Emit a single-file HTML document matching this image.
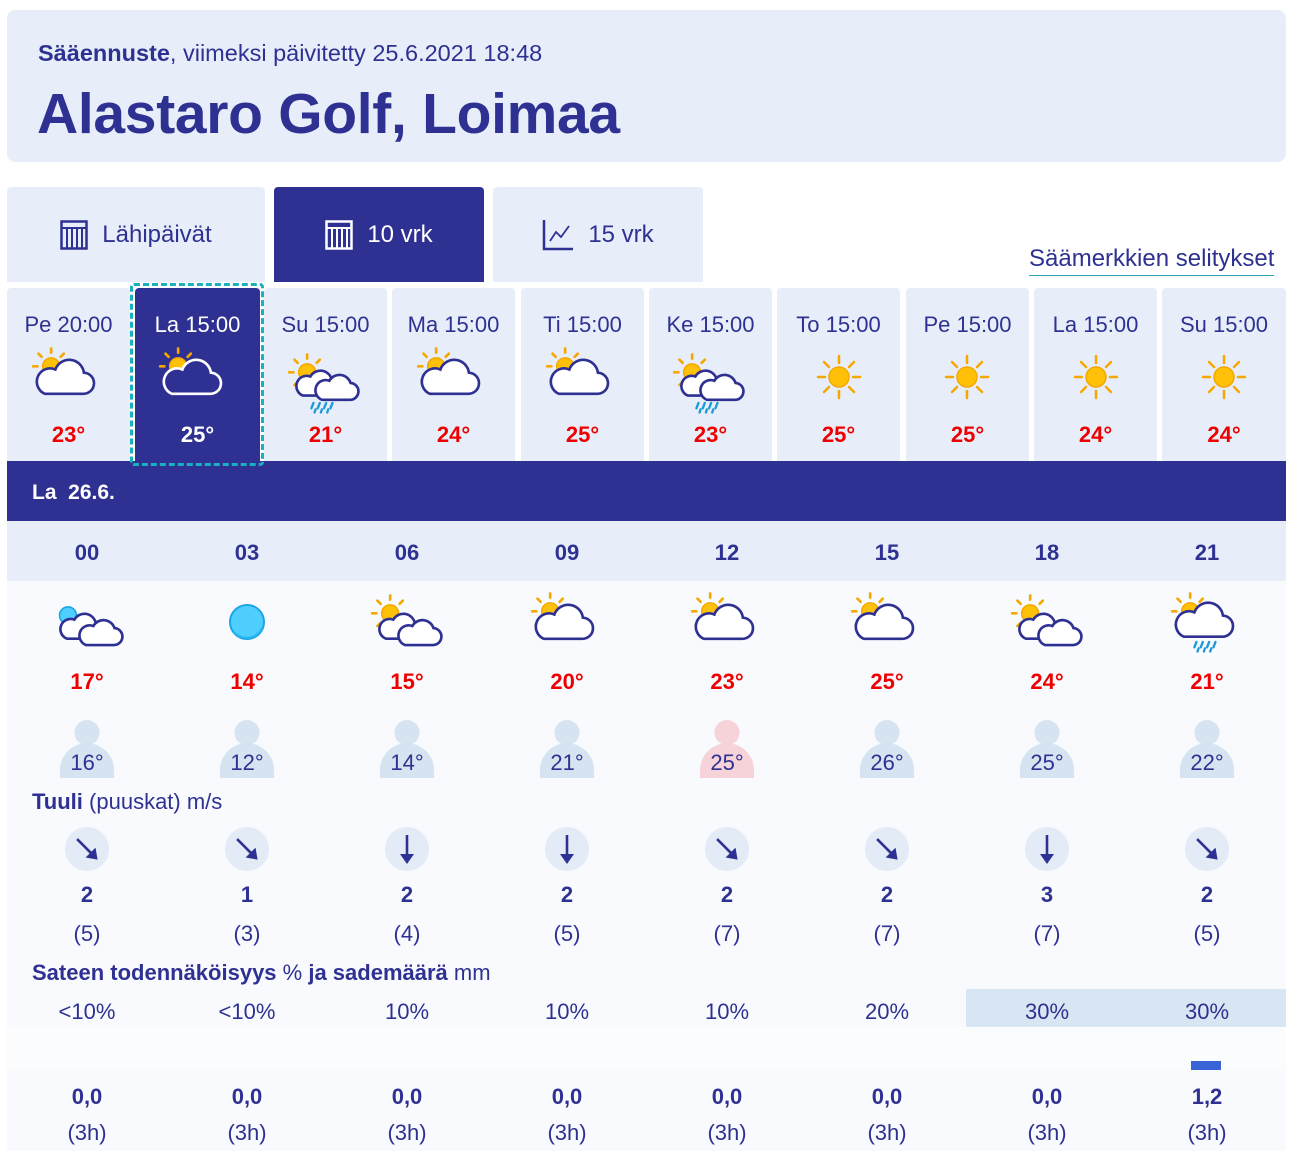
<!DOCTYPE html>
<html><head><meta charset="utf-8">
<style>
*{margin:0;padding:0;box-sizing:border-box}
body{width:1309px;height:1174px;background:#fff;font-family:"Liberation Sans","DejaVu Sans",sans-serif;color:#2e3192;position:relative;overflow:hidden}
.a{position:absolute}
.c{position:absolute;text-align:center}
.hdr{left:7px;top:10px;width:1279px;height:152px;background:#e7eef9;border-radius:8px}
.tab{top:187px;height:95px;background:#e7eef9;border-radius:4px 4px 0 0;font-size:24px;display:flex;align-items:center;justify-content:center;gap:14px}
.card{top:288px;width:123px;height:173px;background:#e7eef9;border-radius:4px 4px 0 0}
.cl{font-size:22px;top:312px}
.ct{font-size:22px;font-weight:bold;color:#e00;top:422px}
.col{width:160px}
.t1{top:669px;font-size:22px;font-weight:bold;color:#e00}
.t2{top:750px;font-size:22px}
.w1{top:882px;font-size:22px;font-weight:bold}
.w2{top:921px;font-size:22px}
.p{top:999px;font-size:22px}
.m1{top:1084px;font-size:22px;font-weight:bold}
.m2{top:1120px;font-size:22px}
</style></head><body>
<svg width="0" height="0" style="position:absolute">
<defs>
<g id="sunS"><g stroke="#f6a800" stroke-width="2.5" stroke-linecap="round"><line x1="20" y1="5" x2="20" y2="1"/><line x1="11" y1="9" x2="8" y2="6"/><line x1="7" y1="18" x2="3" y2="18"/><line x1="11" y1="27" x2="8" y2="30"/><line x1="29" y1="9" x2="32" y2="6"/></g><circle cx="20" cy="18" r="8" fill="#ffc107" stroke="#f6a800" stroke-width="1.5"/></g>
<path id="cb" d="M14 44 H50 A10 10 0 0 0 51 24 A14 14 0 0 0 24 21 A11.5 11.5 0 0 0 14 44 Z"/>
<path id="cs" d="M10 36 H36 A8 8 0 0 0 37 20 A11 11 0 0 0 17 18 A9 9 0 0 0 10 36 Z"/>
<symbol id="c1" viewBox="0 0 70 60"><use href="#sunS"/><use href="#cb" fill="#fff" stroke="#2e3192" stroke-width="2.5"/></symbol>
<symbol id="c1s" viewBox="0 0 70 60"><use href="#sunS"/><use href="#cb" fill="#2e3192" stroke="#fff" stroke-width="2.5"/></symbol>
<symbol id="c2" viewBox="0 0 70 60"><use href="#sunS"/><g fill="#fff" stroke="#2e3192" stroke-width="2.5"><use href="#cs" transform="translate(6,6)"/><use href="#cs" transform="translate(24,12)"/></g></symbol>
<symbol id="c2r" viewBox="0 0 70 60"><use href="#sunS"/><g fill="#fff" stroke="#2e3192" stroke-width="2.5"><use href="#cs" transform="translate(6,4)"/><use href="#cs" transform="translate(24,8)"/></g><g stroke="#1a9ad6" stroke-width="2.2" stroke-linecap="round"><line x1="26" y1="47" x2="24" y2="52"/><line x1="32" y1="47" x2="30" y2="52"/><line x1="38" y1="47" x2="36" y2="52"/><line x1="44" y1="47" x2="42" y2="52"/><line x1="28" y1="53" x2="27" y2="56"/><line x1="34" y1="53" x2="33" y2="56"/><line x1="40" y1="53" x2="39" y2="56"/></g></symbol>
<symbol id="c1r" viewBox="0 0 70 60"><use href="#sunS"/><use href="#cb" fill="#fff" stroke="#2e3192" stroke-width="2.5" transform="translate(0,-2)"/><g stroke="#1a9ad6" stroke-width="2.2" stroke-linecap="round"><line x1="26" y1="47" x2="24" y2="52"/><line x1="32" y1="47" x2="30" y2="52"/><line x1="38" y1="47" x2="36" y2="52"/><line x1="44" y1="47" x2="42" y2="52"/><line x1="28" y1="53" x2="27" y2="56"/><line x1="34" y1="53" x2="33" y2="56"/><line x1="40" y1="53" x2="39" y2="56"/></g></symbol>
<symbol id="sun" viewBox="0 0 70 60"><g stroke="#f6a800" stroke-width="2.5" stroke-linecap="round"><line x1="35" y1="11" x2="35" y2="4"/><line x1="35" y1="39" x2="35" y2="46"/><line x1="21" y1="25" x2="14" y2="25"/><line x1="49" y1="25" x2="56" y2="25"/><line x1="25" y1="15" x2="20" y2="10"/><line x1="45" y1="15" x2="50" y2="10"/><line x1="25" y1="35" x2="20" y2="40"/><line x1="45" y1="35" x2="50" y2="40"/></g><circle cx="35" cy="25" r="10" fill="#ffc107" stroke="#f6a800" stroke-width="1.5"/></symbol>
<symbol id="m2" viewBox="0 0 70 60"><circle cx="17" cy="20" r="8" fill="#4fcfff" stroke="#1aa6e6" stroke-width="1.5"/><g fill="#fff" stroke="#2e3192" stroke-width="2.5"><use href="#cs" transform="translate(6,6)"/><use href="#cs" transform="translate(24,12)"/></g></symbol>
<symbol id="moon" viewBox="0 0 70 60"><circle cx="35" cy="26" r="17" fill="#4fcfff" stroke="#1aa6e6" stroke-width="2"/><path d="M22 36 A17 17 0 0 0 50 32" fill="none" stroke="#2bb8f0" stroke-width="2"/></symbol>
<symbol id="fig" viewBox="0 0 60 60"><circle cx="30" cy="13" r="13"/><path d="M2 60 V52 A28 28 0 0 1 58 52 V60 Z"/></symbol>
<symbol id="arr" viewBox="0 0 44 44"><circle cx="22" cy="22" r="22" fill="#e3ebf7"/><g stroke="#2e3192" stroke-width="2.6" fill="none"><line x1="22" y1="8" x2="22" y2="30"/></g><path d="M15 27 L22 37 L29 27 Z" fill="#2e3192"/></symbol>
</defs></svg>

<div class="a hdr"></div>
<div class="a" style="left:38px;top:40px;font-size:23.5px"><b>Sääennuste</b>, viimeksi päivitetty 25.6.2021 18:48</div>
<div class="a" style="left:37px;top:81px;font-size:57px;font-weight:bold;letter-spacing:-0.3px">Alastaro Golf, Loimaa</div>

<div class="a tab" style="left:7px;width:258px"><svg width="28" height="30" viewBox="0 0 28 30"><rect x="1.5" y="1.5" width="25" height="27" fill="none" stroke="#2e3192" stroke-width="2.5"/><g stroke="#2e3192" stroke-width="2"><line x1="1" y1="8" x2="27" y2="8"/><line x1="7" y1="8" x2="7" y2="28"/><line x1="12" y1="8" x2="12" y2="28"/><line x1="17" y1="8" x2="17" y2="28"/><line x1="22" y1="8" x2="22" y2="28"/></g></svg><span>Lähipäivät</span></div>
<div class="a tab" style="left:274px;width:210px;background:#2e3192;color:#fff"><svg width="28" height="30" viewBox="0 0 28 30"><rect x="1.5" y="1.5" width="25" height="27" fill="none" stroke="#fff" stroke-width="2.5"/><g stroke="#fff" stroke-width="2"><line x1="1" y1="8" x2="27" y2="8"/><line x1="7" y1="8" x2="7" y2="28"/><line x1="12" y1="8" x2="12" y2="28"/><line x1="17" y1="8" x2="17" y2="28"/><line x1="22" y1="8" x2="22" y2="28"/></g></svg><span>10 vrk</span></div>
<div class="a tab" style="left:493px;width:210px"><svg width="32" height="32" viewBox="0 0 32 32"><path d="M2 1 V30 H31" fill="none" stroke="#2e3192" stroke-width="2.5"/><path d="M8 22 L14 13 L19 18 L27 7" fill="none" stroke="#2e3192" stroke-width="1.8"/></svg><span>15 vrk</span></div>
<div class="a" style="left:1029px;top:245px;font-size:24px;border-bottom:1px solid #2aa5b8;padding-bottom:2px">Säämerkkien selitykset</div>

<!-- day cards -->
<div class="a card" style="left:7px"></div>
<div class="a card" style="left:135px;width:125px;height:178px;background:#2e3192"></div>
<div class="a card" style="left:264px"></div>
<div class="a card" style="left:392px"></div>
<div class="a card" style="left:521px"></div>
<div class="a card" style="left:649px"></div>
<div class="a card" style="left:777px"></div>
<div class="a card" style="left:906px"></div>
<div class="a card" style="left:1034px"></div>
<div class="a card" style="left:1162px;width:124px"></div>

<div class="c cl" style="left:7px;width:123px">Pe 20:00</div>
<div class="c cl" style="left:135px;width:125px;color:#fff">La 15:00</div>
<div class="c cl" style="left:264px;width:123px">Su 15:00</div>
<div class="c cl" style="left:392px;width:123px">Ma 15:00</div>
<div class="c cl" style="left:521px;width:123px">Ti 15:00</div>
<div class="c cl" style="left:649px;width:123px">Ke 15:00</div>
<div class="c cl" style="left:777px;width:123px">To 15:00</div>
<div class="c cl" style="left:906px;width:123px">Pe 15:00</div>
<div class="c cl" style="left:1034px;width:123px">La 15:00</div>
<div class="c cl" style="left:1162px;width:124px">Su 15:00</div>

<svg class="a" style="left:30px;top:347px" width="74" height="64" viewBox="0 0 70 60"><use href="#c1"/></svg>
<svg class="a" style="left:157px;top:347px" width="74" height="64" viewBox="0 0 70 60"><use href="#c1s"/></svg>
<svg class="a" style="left:286px;top:353px" width="74" height="64" viewBox="0 0 70 60"><use href="#c2r"/></svg>
<svg class="a" style="left:415px;top:347px" width="74" height="64" viewBox="0 0 70 60"><use href="#c1"/></svg>
<svg class="a" style="left:544px;top:347px" width="74" height="64" viewBox="0 0 70 60"><use href="#c1"/></svg>
<svg class="a" style="left:671px;top:353px" width="74" height="64" viewBox="0 0 70 60"><use href="#c2r"/></svg>
<svg class="a" style="left:804px;top:352px" width="70" height="60"><use href="#sun"/></svg>
<svg class="a" style="left:932px;top:352px" width="70" height="60"><use href="#sun"/></svg>
<svg class="a" style="left:1061px;top:352px" width="70" height="60"><use href="#sun"/></svg>
<svg class="a" style="left:1189px;top:352px" width="70" height="60"><use href="#sun"/></svg>

<div class="c ct" style="left:7px;width:123px">23°</div>
<div class="c ct" style="left:135px;width:125px;color:#fff">25°</div>
<div class="c ct" style="left:264px;width:123px">21°</div>
<div class="c ct" style="left:392px;width:123px">24°</div>
<div class="c ct" style="left:521px;width:123px">25°</div>
<div class="c ct" style="left:649px;width:123px">23°</div>
<div class="c ct" style="left:777px;width:123px">25°</div>
<div class="c ct" style="left:906px;width:123px">25°</div>
<div class="c ct" style="left:1034px;width:123px">24°</div>
<div class="c ct" style="left:1162px;width:124px">24°</div>

<!-- day bar -->
<div class="a" style="left:7px;top:461px;width:1279px;height:60px;background:#2e3192"></div>
<div class="a" style="left:130px;top:283px;width:134px;height:183px;border:3px dashed #1ab0c0;border-radius:4px"></div>
<div class="a" style="left:32px;top:481px;font-size:21px;font-weight:bold;color:#fff;white-space:pre">La  26.6.</div>
<div class="a" style="left:7px;top:521px;width:1279px;height:60px;background:#e7eef9"></div>
<div class="a" style="left:7px;top:581px;width:1279px;height:570px;background:#f8fafd"></div>
<div class="a" style="left:7px;top:1027px;width:1279px;height:43px;background:#fbfcfe"></div>
<div class="a" style="left:966px;top:989px;width:320px;height:38px;background:#d8e5f2"></div>
<div class="a" style="left:1191px;top:1061px;width:30px;height:9px;background:#3b63d8"></div>

<div class="c col" style="left:7px;top:540px;font-size:22px;font-weight:bold">00</div>
<div class="c col" style="left:167px;top:540px;font-size:22px;font-weight:bold">03</div>
<div class="c col" style="left:327px;top:540px;font-size:22px;font-weight:bold">06</div>
<div class="c col" style="left:487px;top:540px;font-size:22px;font-weight:bold">09</div>
<div class="c col" style="left:647px;top:540px;font-size:22px;font-weight:bold">12</div>
<div class="c col" style="left:807px;top:540px;font-size:22px;font-weight:bold">15</div>
<div class="c col" style="left:967px;top:540px;font-size:22px;font-weight:bold">18</div>
<div class="c col" style="left:1127px;top:540px;font-size:22px;font-weight:bold">21</div>

<svg class="a" style="left:50px;top:594px" width="74" height="64" viewBox="0 0 70 60"><use href="#m2"/></svg>
<svg class="a" style="left:212px;top:596px" width="70" height="60"><use href="#moon"/></svg>
<svg class="a" style="left:369px;top:594px" width="74" height="64" viewBox="0 0 70 60"><use href="#c2"/></svg>
<svg class="a" style="left:529px;top:592px" width="74" height="64" viewBox="0 0 70 60"><use href="#c1"/></svg>
<svg class="a" style="left:689px;top:592px" width="74" height="64" viewBox="0 0 70 60"><use href="#c1"/></svg>
<svg class="a" style="left:849px;top:592px" width="74" height="64" viewBox="0 0 70 60"><use href="#c1"/></svg>
<svg class="a" style="left:1009px;top:594px" width="74" height="64" viewBox="0 0 70 60"><use href="#c2"/></svg>
<svg class="a" style="left:1169px;top:592px" width="74" height="64" viewBox="0 0 70 60"><use href="#c1r"/></svg>

<div class="c col t1" style="left:7px">17°</div>
<div class="c col t1" style="left:167px">14°</div>
<div class="c col t1" style="left:327px">15°</div>
<div class="c col t1" style="left:487px">20°</div>
<div class="c col t1" style="left:647px">23°</div>
<div class="c col t1" style="left:807px">25°</div>
<div class="c col t1" style="left:967px">24°</div>
<div class="c col t1" style="left:1127px">21°</div>

<svg class="a" style="left:58px;top:719px;fill:#d6e3f0" width="58" height="60"><use href="#fig"/></svg>
<svg class="a" style="left:218px;top:719px;fill:#d6e3f0" width="58" height="60"><use href="#fig"/></svg>
<svg class="a" style="left:378px;top:719px;fill:#d6e3f0" width="58" height="60"><use href="#fig"/></svg>
<svg class="a" style="left:538px;top:719px;fill:#d6e3f0" width="58" height="60"><use href="#fig"/></svg>
<svg class="a" style="left:698px;top:719px;fill:#f6d3d9" width="58" height="60"><use href="#fig"/></svg>
<svg class="a" style="left:858px;top:719px;fill:#d6e3f0" width="58" height="60"><use href="#fig"/></svg>
<svg class="a" style="left:1018px;top:719px;fill:#d6e3f0" width="58" height="60"><use href="#fig"/></svg>
<svg class="a" style="left:1178px;top:719px;fill:#d6e3f0" width="58" height="60"><use href="#fig"/></svg>

<div class="c col t2" style="left:7px">16°</div>
<div class="c col t2" style="left:167px">12°</div>
<div class="c col t2" style="left:327px">14°</div>
<div class="c col t2" style="left:487px">21°</div>
<div class="c col t2" style="left:647px">25°</div>
<div class="c col t2" style="left:807px">26°</div>
<div class="c col t2" style="left:967px">25°</div>
<div class="c col t2" style="left:1127px">22°</div>

<div class="a" style="left:32px;top:789px;font-size:22px"><b>Tuuli</b> (puuskat) m/s</div>

<svg class="a" style="left:65px;top:827px" width="44" height="44"><use href="#arr" transform="rotate(-45 22 22)"/></svg>
<svg class="a" style="left:225px;top:827px" width="44" height="44"><use href="#arr" transform="rotate(-45 22 22)"/></svg>
<svg class="a" style="left:385px;top:827px" width="44" height="44"><use href="#arr"/></svg>
<svg class="a" style="left:545px;top:827px" width="44" height="44"><use href="#arr"/></svg>
<svg class="a" style="left:705px;top:827px" width="44" height="44"><use href="#arr" transform="rotate(-45 22 22)"/></svg>
<svg class="a" style="left:865px;top:827px" width="44" height="44"><use href="#arr" transform="rotate(-45 22 22)"/></svg>
<svg class="a" style="left:1025px;top:827px" width="44" height="44"><use href="#arr"/></svg>
<svg class="a" style="left:1185px;top:827px" width="44" height="44"><use href="#arr" transform="rotate(-45 22 22)"/></svg>

<div class="c col w1" style="left:7px">2</div>
<div class="c col w1" style="left:167px">1</div>
<div class="c col w1" style="left:327px">2</div>
<div class="c col w1" style="left:487px">2</div>
<div class="c col w1" style="left:647px">2</div>
<div class="c col w1" style="left:807px">2</div>
<div class="c col w1" style="left:967px">3</div>
<div class="c col w1" style="left:1127px">2</div>

<div class="c col w2" style="left:7px">(5)</div>
<div class="c col w2" style="left:167px">(3)</div>
<div class="c col w2" style="left:327px">(4)</div>
<div class="c col w2" style="left:487px">(5)</div>
<div class="c col w2" style="left:647px">(7)</div>
<div class="c col w2" style="left:807px">(7)</div>
<div class="c col w2" style="left:967px">(7)</div>
<div class="c col w2" style="left:1127px">(5)</div>

<div class="a" style="left:32px;top:960px;font-size:22px"><b>Sateen todennäköisyys</b> % <b>ja sademäärä</b> mm</div>

<div class="c col p" style="left:7px">&lt;10%</div>
<div class="c col p" style="left:167px">&lt;10%</div>
<div class="c col p" style="left:327px">10%</div>
<div class="c col p" style="left:487px">10%</div>
<div class="c col p" style="left:647px">10%</div>
<div class="c col p" style="left:807px">20%</div>
<div class="c col p" style="left:967px">30%</div>
<div class="c col p" style="left:1127px">30%</div>

<div class="c col m1" style="left:7px">0,0</div>
<div class="c col m1" style="left:167px">0,0</div>
<div class="c col m1" style="left:327px">0,0</div>
<div class="c col m1" style="left:487px">0,0</div>
<div class="c col m1" style="left:647px">0,0</div>
<div class="c col m1" style="left:807px">0,0</div>
<div class="c col m1" style="left:967px">0,0</div>
<div class="c col m1" style="left:1127px">1,2</div>

<div class="c col m2" style="left:7px">(3h)</div>
<div class="c col m2" style="left:167px">(3h)</div>
<div class="c col m2" style="left:327px">(3h)</div>
<div class="c col m2" style="left:487px">(3h)</div>
<div class="c col m2" style="left:647px">(3h)</div>
<div class="c col m2" style="left:807px">(3h)</div>
<div class="c col m2" style="left:967px">(3h)</div>
<div class="c col m2" style="left:1127px">(3h)</div>
</body></html>
